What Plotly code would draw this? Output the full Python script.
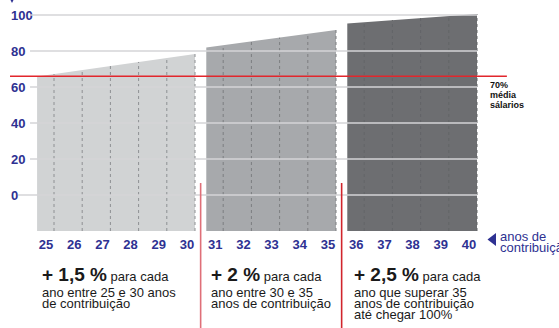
import plotly.graph_objects as go

# ---------------- data ----------------
years_a = [25, 26, 27, 28, 29, 30]
tops_a = [67.2, 69.4, 71.7, 73.9, 76.1, 78.3]
years_b = [31, 32, 33, 34, 35]
tops_b = [83.2, 85.3, 87.4, 89.6, 91.7]
years_c = [36, 37, 38, 39, 40]
tops_c = [96.0, 97.2, 98.3, 99.4, 100.5]

y_ticks = [0, 20, 40, 60, 80, 100]
x_ticks = list(range(25, 41))
media_level = 66          # red "70% média salários" line as drawn
base_level = -20          # bottom of the columns

block_titles = ["+ 1,5 %", "+ 2 %", "+ 2,5 %"]
block_lines = [
    ["ano entre 25 e 30 anos", "de contribuição"],
    ["ano entre 30 e 35", "anos de contribuição"],
    ["ano que superar 35", "anos de contribuição", "até chegar 100%"],
]

# ---------------- style ----------------
W, H = 559, 328
NAVY = "#2e3192"
FONT = "Liberation Sans, Arial, sans-serif"
seg_fill = ["#d1d3d4", "#a7a9ac", "#6d6e71"]
seg_dot = ["#8e9093", "#7c7e81", "#636467"]
LEAD = 0.6   # how far each block starts before its first year


def pxx(p):
    return p / W


def pxy(p):
    return 1 - p / H


fig = go.Figure()

segments = [(years_a, tops_a), (years_b, tops_b), (years_c, tops_c)]
for i, (yrs, tops) in enumerate(segments):
    slope = tops[1] - tops[0]
    x_start = yrs[0] - LEAD
    edge = tops[0] - slope * LEAD
    xs = [x_start] + yrs + [yrs[-1], x_start, x_start]
    ys = [edge] + tops + [base_level, base_level, edge]
    fig.add_trace(go.Scatter(x=xs, y=ys, mode="lines", fill="toself",
                             fillcolor=seg_fill[i], line=dict(width=0),
                             hoverinfo="skip", showlegend=False))
    dx, dy = [], []
    for yr, t in zip(yrs, tops):
        dx += [yr, yr, None]
        dy += [base_level, t, None]
    fig.add_trace(go.Scatter(x=dx, y=dy, mode="lines",
                             line=dict(color=seg_dot[i], width=1, dash="dot"),
                             hoverinfo="skip", showlegend=False))

shapes = []
# gridlines drawn above the columns
for v in y_ticks:
    x0 = 23.72 if v == 0 else 24.15
    shapes.append(dict(type="line", xref="x", yref="y", x0=x0, x1=40, y0=v, y1=v,
                       line=dict(color="#d4d5d7", width=1.3), layer="above"))
# red average line
shapes.append(dict(type="line", xref="x", yref="y", x0=23.44, x1=41.06,
                   y0=media_level, y1=media_level,
                   line=dict(color="#e2262c", width=1.6), layer="above"))
# red dividers between blocks
div_colors = ["#df6f78", "#d1252c"]
for i, (a, b) in enumerate([(years_a, years_b), (years_b, years_c)]):
    xm = (a[-1] + b[0] - LEAD) / 2
    shapes.append(dict(type="line", xref="x", yref="paper", x0=xm, x1=xm,
                       y0=0, y1=pxy(183),
                       line=dict(color=div_colors[i], width=1.6), layer="above"))
# arrow for x axis label
shapes.append(dict(type="path", xref="paper", yref="paper",
                   path=f"M {pxx(496)} {pxy(233)} L {pxx(496)} {pxy(246)} L {pxx(487.5)} {pxy(239.5)} Z",
                   fillcolor=NAVY, line=dict(width=0)))
# arrow at top of y axis (cut off)
shapes.append(dict(type="path", xref="paper", yref="paper",
                   path=f"M {pxx(8.5)} {pxy(-4)} L {pxx(15.5)} {pxy(-4)} L {pxx(12)} {pxy(3)} Z",
                   fillcolor=NAVY, line=dict(width=0)))

annotations = []


def note(text, x, y, size, color="#1a1a1a", bold=False):
    annotations.append(dict(text=text, xref="paper", yref="paper",
                            x=pxx(x), y=pxy(y), xanchor="left", yanchor="middle",
                            showarrow=False,
                            font=dict(family=FONT, size=size, color=color,
                                      weight="bold" if bold else "normal")))


# label of the red line
for txt, yb in zip(["70%", "média", "sálarios"], [88, 98, 107.5]):
    note(txt, 488, yb - 3, 9, color="#111111", bold=True)

# x axis title
note("anos de", 498, 236.5, 13, color=NAVY)
note("contribuição", 498, 247.5, 13, color=NAVY)

# text blocks under the chart
block_x = [40, 209, 352]
line_base = [296.5, 307.5, 318.5]
for bx, title, lines in zip(block_x, block_titles, block_lines):
    note(f"<b><span style='font-size:19px'>{title}</span></b> para cada",
         bx, 274, 13)
    for ln, yb in zip(lines, line_base):
        note(ln, bx, yb - 4.3, 13)

x_per_px = 1 / 28.2
x_left = 25 - 54 * x_per_px
x_right = x_left + W * x_per_px
y_per_px = 1 / 1.8
y_top = 195 * y_per_px
y_bottom = y_top - H * y_per_px

fig.update_layout(
    width=W, height=H,
    margin=dict(l=0, r=0, t=0, b=0),
    paper_bgcolor="white", plot_bgcolor="white",
    font=dict(family=FONT),
    showlegend=False,
    xaxis=dict(range=[x_left, x_right], tickvals=x_ticks,
               ticktext=[str(v) for v in x_ticks],
               showgrid=False, zeroline=False, showline=False, ticks="",
               anchor="free", position=pxy(235),
               ticklabelshift=-8,
               tickfont=dict(family=FONT, size=13, color=NAVY, weight="bold"),
               fixedrange=True),
    yaxis=dict(range=[y_bottom, y_top], tickvals=y_ticks,
               ticktext=[str(v) for v in y_ticks],
               showgrid=False, zeroline=False, showline=False, ticks="",
               ticklabelposition="inside", ticklabelstandoff=8,
               tickfont=dict(family=FONT, size=13, color=NAVY, weight="bold"),
               fixedrange=True),
    shapes=shapes,
    annotations=annotations,
)

fig.write_html("out.html", config={"displayModeBar": False},
               post_script="document.body.style.margin='0';document.body.style.overflow='hidden';")
